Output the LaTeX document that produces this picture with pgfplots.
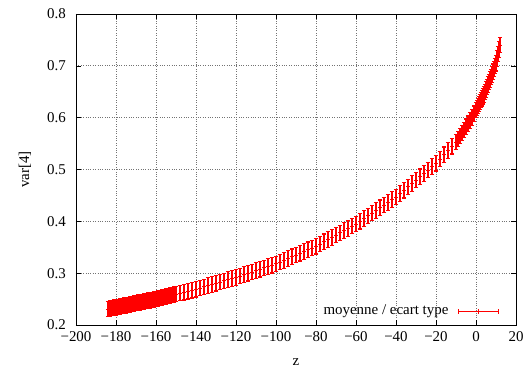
\documentclass[border=0pt]{standalone}
\usepackage{pgfplots}
\pgfplotsset{compat=1.18}
\usepackage{pgfplotstable}
\usepackage{fontspec}
\setmainfont{Liberation Serif}
\pgfplotstableread{
z y e
-184 0.2310 0.015
-183 0.2318 0.015
-182 0.2326 0.015
-181 0.2334 0.015
-180 0.2342 0.015
-179 0.2350 0.015
-178 0.2357 0.015
-177 0.2365 0.015
-176 0.2373 0.015
-175 0.2381 0.015
-174 0.2389 0.015
-173 0.2397 0.015
-172 0.2405 0.015
-171 0.2413 0.015
-170 0.2421 0.015
-169 0.2429 0.015
-168 0.2437 0.015
-167 0.2445 0.015
-166 0.2453 0.015
-165 0.2461 0.015
-164 0.2468 0.015
-163 0.2476 0.015
-162 0.2484 0.015
-161 0.2492 0.015
-160 0.2500 0.015
-159 0.2510 0.015
-158 0.2519 0.015
-157 0.2529 0.015
-156 0.2538 0.015
-155 0.2548 0.015
-154 0.2557 0.015
-153 0.2567 0.015
-152 0.2576 0.015
-151 0.2586 0.015
-150 0.2595 0.015
-148 0.2614 0.015
-146 0.2633 0.015
-144 0.2652 0.015
-142 0.2671 0.015
-140 0.2690 0.015
-138 0.2713 0.015
-136 0.2736 0.015
-134 0.2759 0.015
-132 0.2782 0.015
-130 0.2805 0.015
-128 0.2828 0.015
-126 0.2851 0.015
-124 0.2874 0.015
-122 0.2897 0.015
-120 0.2920 0.015
-118 0.2946 0.015
-116 0.2972 0.015
-114 0.2998 0.015
-112 0.3024 0.015
-110 0.3050 0.015
-108 0.3076 0.015
-106 0.3102 0.015
-104 0.3128 0.015
-102 0.3154 0.015
-100 0.3180 0.015
-98 0.3214 0.015
-96 0.3248 0.015
-94 0.3282 0.015
-92 0.3316 0.015
-90 0.3350 0.015
-88 0.3384 0.015
-86 0.3418 0.015
-84 0.3452 0.015
-82 0.3486 0.015
-80 0.3520 0.015
-78 0.3563 0.015
-76 0.3606 0.015
-74 0.3649 0.015
-72 0.3692 0.015
-70 0.3735 0.015
-68 0.3778 0.015
-66 0.3821 0.015
-64 0.3864 0.015
-62 0.3907 0.015
-60 0.3950 0.015
-58 0.4002 0.015
-56 0.4054 0.015
-54 0.4106 0.015
-52 0.4158 0.015
-50 0.4210 0.015
-48 0.4262 0.015
-46 0.4314 0.015
-44 0.4366 0.015
-42 0.4418 0.015
-40 0.4470 0.015
-38 0.4535 0.015
-36 0.4600 0.015
-34 0.4665 0.015
-32 0.4730 0.015
-30 0.4795 0.015
-28 0.4860 0.015
-26 0.4925 0.015
-24 0.4990 0.015
-22 0.5055 0.015
-20 0.5120 0.015
-18 0.5202 0.015
-16 0.5284 0.015
-14 0.5366 0.015
-12 0.5448 0.015
-10 0.5530 0.015
-9 0.5589 0.015
-8 0.5648 0.015
-7 0.5707 0.015
-6 0.5765 0.015
-5 0.5824 0.015
-4 0.5883 0.015
-3 0.5942 0.015
-2 0.6000 0.015
-1 0.6075 0.015
0 0.6150 0.015
0.5 0.6188 0.015
1 0.6225 0.015
1.5 0.6263 0.015
2 0.6300 0.015
2.5 0.6338 0.015
3 0.6375 0.015
3.5 0.6413 0.015
4 0.6450 0.015
4.5 0.6498 0.015
5 0.6545 0.015
5.5 0.6593 0.015
6 0.6640 0.015
6.5 0.6688 0.015
7 0.6735 0.015
7.5 0.6783 0.015
8 0.6830 0.015
8.5 0.6885 0.015
9 0.6940 0.015
9.5 0.6995 0.015
10 0.7050 0.015
10.5 0.7138 0.015
11 0.7225 0.015
11.5 0.7313 0.015
12 0.7400 0.015
}\data
\begin{document}
\fontsize{15}{17}\selectfont
\begin{tikzpicture}
\begin{axis}[
  scale only axis,
  width=440bp, height=311bp,
  xmin=-200, xmax=20, ymin=0.2, ymax=0.8,
  xtick={-200,-180,...,20},
  xticklabels={−200,−180,−160,−140,−120,−100,−80,−60,−40,−20,0,20},
  ytick={0.2,0.3,...,0.8},
  yticklabels={0.2,0.3,0.4,0.5,0.6,0.7,0.8},
  tick align=inside,
  major tick length=5bp,
  tick style={black, line width=0.6bp},
  axis line style={black, line width=0.9bp},
  grid=major,
  major grid style={dotted, black!55, line width=0.7bp},
  tick label style={font=\fontsize{15}{17}\selectfont},
  xticklabel style={yshift=-1bp},
  yticklabel style={xshift=-5bp},
  xlabel={z},
  ylabel={var[4]},
  label style={font=\fontsize{15}{17}\selectfont},
  every axis x label/.style={at={(axis description cs:0.5,-0.119)}, anchor=center},
  every axis y label/.style={at={(axis description cs:-0.116,0.5)}, anchor=center, rotate=90},
  legend plot pos=right,
  legend style={draw=none, fill=none, at={(0.965,0.015)}, anchor=south east,
    font=\fontsize{15}{17}\selectfont, inner sep=1bp,
    /tikz/every odd column/.append style={column sep=8bp}},
  legend image code/.code={
    \draw[color=red, line width=1bp] (0bp,0bp) -- (40bp,0bp);
    \draw[color=red, line width=1bp] (0bp,-2.5bp) -- (0bp,2.5bp);
    \draw[color=red, line width=1bp] (20bp,-2.5bp) -- (20bp,2.5bp);
    \draw[color=red, line width=1bp] (40bp,-2.5bp) -- (40bp,2.5bp);
  },
]
\addplot[red, only marks, mark=+, mark size=2bp, mark options={line width=0.8bp},
  error bars/.cd, y dir=both, y explicit,
  error mark options={red, mark size=2.2bp, line width=1.1bp, rotate=90},
  error bar style={red, line width=1.1bp}]
  table[x=z, y=y, y error=e] {\data};
\addlegendentry{moyenne / ecart type}
\end{axis}
\pgfresetboundingbox
\path ([xshift=-76bp,yshift=-45bp]current axis.south west) rectangle ([xshift=9bp,yshift=14bp]current axis.north east);
\end{tikzpicture}
\end{document}
